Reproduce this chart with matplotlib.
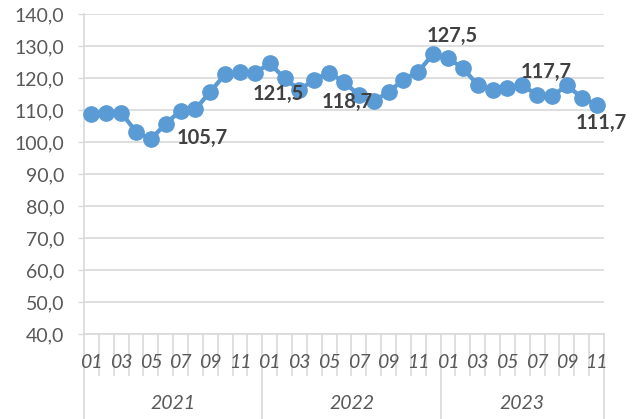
import matplotlib
matplotlib.use("Agg")
import matplotlib.pyplot as plt
from matplotlib.transforms import blended_transform_factory
from matplotlib.ticker import FuncFormatter

# monthly index, Jan 2021 - Nov 2023
years = ["2021", "2022", "2023"]
months_per_year = [12, 12, 11]
values = [108.7, 109.0, 109.2, 103.2, 100.9, 105.7, 109.8, 110.3, 115.7, 121.2, 122.0, 121.5,
          124.6, 119.9, 116.3, 119.5, 121.7, 118.7, 114.7, 112.8, 115.6, 119.5, 122.0, 127.5,
          126.2, 123.1, 117.8, 116.3, 116.8, 117.7, 114.7, 114.3, 117.7, 113.9, 111.7]
# labelled points: index -> label offset in points
labelled = {5: (26, -10), 11: (17, -15), 17: (2, -14), 23: (14, 13), 32: (-15, 10), 34: (3, -13)}

plt.rcParams['font.family'] = ['Lato', 'DejaVu Sans']

fig = plt.figure(figsize=(6.38, 4.19), dpi=100)
ax = fig.add_axes([84 / 638, 1 - 334 / 419, 520 / 638, 320 / 419])

x = list(range(len(values)))
ax.plot(x, values, '-o', color='#5B9BD5', linewidth=3.1, markersize=11, zorder=3, clip_on=False)

for i, (dx, dy) in labelled.items():
    ax.annotate(f"{values[i]:.1f}".replace('.', ','), xy=(i, values[i]), xytext=(dx, dy),
                textcoords='offset points', ha='center', va='center', fontsize=14.5,
                fontweight='bold', color='#404040', zorder=4)

ax.set_xlim(-0.5, len(values) - 0.5)
ax.set_ylim(40, 140)
ax.set_yticks(range(40, 141, 10))
ax.yaxis.set_major_formatter(FuncFormatter(lambda v, p: f"{v:.1f}".replace('.', ',')))
ax.tick_params(axis='y', colors='#d9d9d9', labelcolor='#595959', labelsize=14,
               length=4.3, width=1, pad=10)
ax.set_xticks([])
ax.grid(axis='y', color='#d9d9d9', linewidth=1.2)
ax.set_axisbelow(True)
for s in ['top', 'right']:
    ax.spines[s].set_visible(False)
for s in ['left', 'bottom']:
    ax.spines[s].set_color('#d9d9d9')
    ax.spines[s].set_linewidth(1.2)

# category axis: month ticks, month labels and year labels
trans = blended_transform_factory(ax.transData, ax.transAxes)
start = 0
for year, n in zip(years, months_per_year):
    ax.plot([start - 0.5, start - 0.5], [0, -0.266], transform=trans, color='#d9d9d9',
            linewidth=1.2, clip_on=False)
    for m in range(n):
        idx = start + m
        if m > 0:
            ax.plot([idx - 0.5, idx - 0.5], [0, -0.128], transform=trans, color='#d9d9d9',
                    linewidth=1.2, clip_on=False)
        if m % 2 == 0:
            ax.text(idx, -0.088, f"{m + 1:02d}", transform=trans, ha='center', va='center',
                    fontsize=14, style='italic', color='#595959')
    ax.text(start + (n - 1) / 2, -0.216, year, transform=trans, ha='center', va='center',
            fontsize=14, style='italic', color='#595959')
    start += n
ax.plot([start - 0.5, start - 0.5], [0, -0.266], transform=trans, color='#d9d9d9',
        linewidth=1.2, clip_on=False)

fig.savefig('out.png', dpi=100)
